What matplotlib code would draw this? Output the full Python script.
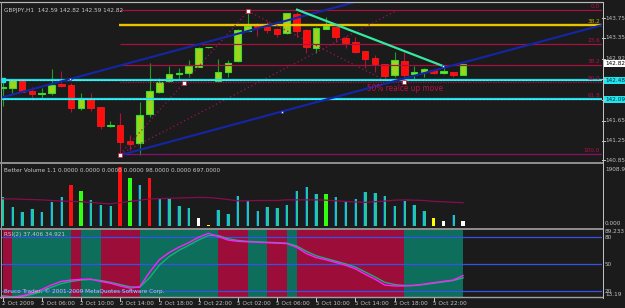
import matplotlib
matplotlib.use('Agg')
import matplotlib.pyplot as plt
from matplotlib import font_manager as fm
from matplotlib.lines import Line2D

W, H = 625, 308
BG = '#1b1b1b'
GRAY = '#c0c0c0'

entries = [(f.name, str(f.stretch)) for f in fm.fontManager.ttflist]
names = {e[0] for e in entries}
STRETCH = 'normal'
if 'Liberation Sans Narrow' in names:
    FONT, FS = 'Liberation Sans Narrow', 5.0
elif any(nm == 'DejaVu Sans' and 'condensed' in st for nm, st in entries):
    FONT, FS, STRETCH = 'DejaVu Sans', 4.6, 'condensed'
elif 'Liberation Sans' in names:
    FONT, FS = 'Liberation Sans', 4.6
else:
    FONT, FS = 'DejaVu Sans', 4.1
plt.rcParams['font.family'] = [FONT, 'DejaVu Sans']
plt.rcParams['font.stretch'] = STRETCH

# ---------------- data ----------------
title_text = "GBPJPY,H1  142.59 142.82 142.59 142.82"
time_ticks = [0, 4, 8, 12, 16, 20, 24, 28, 32, 36, 40, 44]
time_labels = ["2 Oct 2009", "2 Oct 06:00", "2 Oct 10:00", "2 Oct 14:00", "2 Oct 18:00",
               "2 Oct 22:00", "5 Oct 02:00", "5 Oct 06:00", "5 Oct 10:00", "5 Oct 14:00",
               "5 Oct 18:00", "5 Oct 22:00"]

opens = [142.32, 142.32, 142.50, 142.26, 142.20, 142.22, 142.40, 142.38, 141.91, 142.12,
         141.93, 141.55, 141.57, 141.24, 141.20, 141.79, 142.24, 142.46, 142.61, 142.63,
         142.75, 143.15, 142.46, 142.65, 142.87, 143.49, 143.63, 143.57, 143.53, 143.44,
         143.83, 143.51, 143.14, 143.53, 143.57, 143.34, 143.26, 143.08, 142.93, 142.81,
         142.59, 142.87, 142.61, 142.65, 142.69, 142.63, 142.65, 142.59]
highs = [142.48, 142.51, 142.51, 142.34, 142.32, 142.71, 142.67, 142.42, 142.22, 142.22,
         141.93, 141.65, 141.81, 141.36, 142.04, 142.83, 142.53, 142.77, 142.73, 142.89,
         143.16, 143.16, 142.91, 142.89, 143.53, 143.89, 143.65, 143.69, 143.55, 143.85,
         143.87, 143.53, 143.57, 143.77, 143.59, 143.38, 143.36, 143.08, 143.00, 142.81,
         143.06, 143.06, 142.77, 142.73, 142.69, 142.79, 142.65, 142.82]
lows = [141.95, 142.22, 142.24, 142.08, 142.12, 142.18, 142.34, 141.83, 141.87, 141.85,
        141.49, 141.53, 140.95, 141.06, 140.96, 141.73, 142.22, 142.44, 142.51, 142.55,
        142.75, 143.14, 142.46, 142.55, 142.85, 143.49, 143.38, 143.44, 143.36, 143.42,
        143.36, 143.04, 143.04, 143.53, 143.26, 143.14, 143.04, 142.73, 142.65, 142.48,
        142.55, 142.44, 142.51, 142.55, 142.61, 142.61, 142.55, 142.59]
closes = [142.34, 142.48, 142.24, 142.20, 142.22, 142.38, 142.37, 141.91, 142.12, 141.91,
          141.55, 141.57, 141.22, 141.18, 141.77, 142.26, 142.44, 142.61, 142.63, 142.77,
          143.14, 143.16, 142.65, 142.83, 143.51, 143.59, 143.57, 143.51, 143.42, 143.85,
          143.48, 143.16, 143.55, 143.59, 143.36, 143.24, 143.06, 142.91, 142.81, 142.57,
          142.89, 142.59, 142.65, 142.71, 142.63, 142.67, 142.59, 142.82]

price_ticks = [143.75, 143.35, 142.92, 142.50, 142.08, 141.65, 141.25, 140.85]
price_tick_labels = ["143.75", "143.35", "142.92", "142.50", "142.08", "141.65", "141.25", "140.85"]

fib_high = 143.91
fib_low = 140.97
fib_start = 12
fib_levels = [0.0, 23.6, 38.2, 50.0, 61.8, 100.0]
fib_labels = ["0.0", "23.6", "38.2", "50.0", "61.8", "100.0"]
yellow_level = 143.60
yellow_label = "38.2"
cyan_levels = [142.48, 142.09]
cyan_labels = ["142.48", "142.09"]
last_price = 142.82

channel_slope = 0.054
upper_anchor = (6.9, 142.505)
lower_anchor = (12.0, 140.95)
green_trend = [(30.05, 143.92), (44.95, 142.77)]
dotted_a = [(12.0, 140.97), (25.05, 143.89)]
dotted_b = [(12.0, 140.97), (40.1, 143.89)]
dotted_c = [(25.05, 143.89), (39.0, 142.48)]
red_markers = [(12.0, 140.95), (25.05, 143.89), (18.5, 142.42), (41.0, 142.44)]
blue_markers = [(6.9, 142.505), (28.5, 141.84), (44.95, 142.77)]
note_text = "50% realce up move"
note_pos = (37.2, 142.32)

volumes = [930, 633, 459, 557, 459, 777, 928, 1345, 1148, 853,
           679, 656, 1908.9, 1574, 1345, 1564, 875, 886, 666, 580,
           252, 30, 525, 394, 984, 798, 492, 612, 601, 678,
           1148, 1257, 1050, 1050, 941, 787, 875, 1105, 1082, 984,
           656, 820, 678, 492, 252, 175, 360, 150]
vol_class = "TTTTTTT" + "R" + "G" + "TTT" + "R" + "G" + "T" + "R" + "TTTT" + "W" + "Y" + \
            "TTTTTTTTTTT" + "G" + "TTTTTTTTTT" + "Y" + "W" + "T" + "W"
vol_ma = [886, 880, 870, 860, 850, 830, 810, 800, 790, 770,
          740, 722, 760, 800, 840, 880, 890, 900, 910, 920,
          930, 925, 900, 860, 820, 820, 830, 830, 830, 850,
          850, 850, 850, 840, 820, 800, 780, 770, 790, 810,
          840, 850, 840, 830, 800, 790, 770, 760]
vol_title = "Better Volume 1.1 0.0000 0.0000 0.0000 0.0000 98.0000 0.0000 697.0000"
vol_max_label = "1908.9"
vol_min_label = "0.000"

rsi_main = [14, 13.2, 15, 18, 22, 27, 31, 32.5, 33.3, 33.5,
            31, 29, 26, 23.5, 25, 41, 55, 63, 69, 74,
            80, 84.4, 81, 77, 75.5, 75, 74.5, 74, 73.5, 73,
            69, 62, 57.5, 55, 52, 49, 45, 39, 33.5, 27,
            25.9, 25.9, 26.5, 28, 29.6, 31, 32.5, 37.406]
rsi_signal = [15, 14, 14.5, 16.5, 20, 24.5, 28.5, 31, 32.5, 33.2,
              32, 30, 27.5, 25, 24.5, 35, 49, 58.5, 65.5, 71,
              77, 82, 82, 78.5, 76.5, 75.5, 75, 74.5, 74, 73.5,
              70.5, 64.5, 59.5, 56.5, 53.5, 50.5, 47, 41.5, 36, 30,
              27.5, 26.5, 26.5, 27.5, 29, 30.5, 32, 34.921]
rsi_zone = "R" + "TTTTTT" + "R" + "TT" + "RRRR" + "TTTTTTTT" + "RRR" + "TT" + "RR" + "T" + \
           "RRRRRRRRRRR" + "TTTTTT"
rsi_levels = [80, 50, 20]
rsi_title = "RSI(2) 37.406 34.921"
rsi_max_label = "89.233"
rsi_min_label = "13.19"
copyright_text = "Bruco Trader, \u00a9 2001-2009 MetaQuotes Software Corp."

# ---------------- layout helpers ----------------
X0_PX, DX_PX = 2.5, 9.8
AX_L, AX_R = 2.0, 602.0


def rect(y0, y1):
    return [AX_L / W, 1 - y1 / H, (AX_R - AX_L) / W, (y1 - y0) / H]


def fline(x0, y0, x1, y1, color, lw_px=1.0, **kw):
    fig.add_artist(Line2D([x0 / W, x1 / W], [1 - y0 / H, 1 - y1 / H],
                          color=color, lw=lw_px * 0.72, **kw))


xlim = ((AX_L - X0_PX) / DX_PX, (AX_R - X0_PX) / DX_PX)
LABX = (605 - AX_L) / (AX_R - AX_L)

fig = plt.figure(figsize=(W / 100, H / 100), dpi=100, facecolor=BG)

ax = fig.add_axes(rect(2.5, 161.8))
axv = fig.add_axes(rect(163.6, 227.7))
axr = fig.add_axes(rect(229.4, 296.8))
for a in (ax, axv, axr):
    a.set_facecolor(BG)
    a.set_xlim(*xlim)
    a.set_xticks([])
    a.set_yticks([])
    for s in a.spines.values():
        s.set_visible(False)

# price axis: y = 18 + (143.75 - p) * 49
ax.set_ylim(143.75 - (161.8 - 18) / 49, 143.75 + (18 - 2.5) / 49)
# volume axis: 0 at y=226, 1908.9 at y=167.3
kv = (226 - 167.3) / 1908.9
axv.set_ylim(-(227.7 - 226) / kv, 1908.9 + (167.3 - 163.6) / kv)
# rsi axis: 80 at 237.3, 0.9 px per unit
axr.set_ylim(80 - (296.8 - 237.3) / 0.9, 80 + (237.3 - 229.4) / 0.9)

# ---------------- candles ----------------
n = len(opens)
for i in range(n):
    o, h, l, c = opens[i], highs[i], lows[i], closes[i]
    bull = c >= o
    wick_col = '#1fa01f' if bull else '#b0103c'
    ax.vlines(i, l, h, color=wick_col, lw=0.8, zorder=2)
    body = max(abs(c - o), 0.012)
    if bull:
        ax.bar(i, body, bottom=min(o, c), width=0.66, color='#a0d41c',
               edgecolor='#2fe02f', lw=0.8, zorder=3)
    else:
        ax.bar(i, body, bottom=min(o, c), width=0.66, color='#ff0d0d',
               edgecolor='#ff2020', lw=0.5, zorder=3)

# fib lines
rng = fib_high - fib_low
for lev, lab in zip(fib_levels, fib_labels):
    p = fib_high - rng * lev / 100.0
    col = '#86106a' if lev == 100.0 else '#a8103e'
    ls = (0, (1, 1)) if lev == 50.0 else '-'
    ax.hlines(p, fib_start, xlim[1], color=col, lw=0.9, linestyles=ls, zorder=4)
    ax.text(0.9965, p + 0.025, lab, transform=ax.get_yaxis_transform(),
            ha='right', va='bottom', fontsize=FS, color='#b0104a', zorder=6)
ax.hlines(yellow_level, fib_start - 0.1, xlim[1], color='#e8c400', lw=1.7, zorder=4)
ax.text(0.9965, yellow_level + 0.03, yellow_label, transform=ax.get_yaxis_transform(),
        ha='right', va='bottom', fontsize=FS, color='#c8a400', zorder=6)

# cyan support lines
for p in cyan_levels:
    ax.axhline(p, color='#19dfe8', lw=1.6, zorder=5)
    ax.axhline(p, color='#9ff8ff', lw=0.5, linestyle=(0, (1, 1)), zorder=5)
ax.plot([0.05], [cyan_levels[0]], marker='s', ms=3.5, color='#19e8f0', zorder=6, clip_on=False)

# channel lines
xs_u = [xlim[0], 40]
ax.plot(xs_u, [upper_anchor[1] + channel_slope * (x - upper_anchor[0]) for x in xs_u],
        color='#1426a8', lw=1.5, zorder=5)
xs_l = [lower_anchor[0], xlim[1]]
ax.plot(xs_l, [lower_anchor[1] + channel_slope * (x - lower_anchor[0]) for x in xs_l],
        color='#1426a8', lw=1.5, zorder=5)
# green trend line
ax.plot([p[0] for p in green_trend], [p[1] for p in green_trend], color='#33eaa0', lw=1.6, zorder=5)
# dotted fib trend lines
for seg in (dotted_a, dotted_b, dotted_c):
    ax.plot([p[0] for p in seg], [p[1] for p in seg], color='#a0105a', lw=0.9,
            linestyle=(0, (1, 2.2)), zorder=4)
for (bx, by) in red_markers:
    ax.plot([bx], [by], marker='s', ms=2.2, mfc='white', mec='#d01030', mew=0.5, zorder=7)
for (bx, by) in blue_markers:
    ax.plot([bx], [by], marker='s', ms=2.0, mfc='white', mec='#2030c0', mew=0.5, zorder=7)

ax.text(note_pos[0], note_pos[1], note_text, fontsize=FS * 1.3, color='#b81048',
        ha='left', va='center', zorder=6)
ax.text(0.004, 0.965, title_text, transform=ax.transAxes, fontsize=FS,
        color='#c8c8c8', ha='left', va='top', zorder=8)

# price axis labels
for p, lab in zip(price_ticks, price_tick_labels):
    ax.text(LABX, p, lab, transform=ax.get_yaxis_transform(), fontsize=FS, color=GRAY,
            ha='left', va='center', clip_on=False)
    y = 18 + (143.75 - p) * 49
    fline(602, y, 604.5, y, GRAY)
box_kw = dict(boxstyle='square,pad=0.18', ec='none')
ax.text(LABX, last_price, f"{last_price:.2f}", transform=ax.get_yaxis_transform(),
        fontsize=FS, color='black', ha='left', va='center', clip_on=False, zorder=9,
        bbox=dict(fc='white', **box_kw))
for p, lab in zip(cyan_levels, cyan_labels):
    ax.text(LABX, p, lab, transform=ax.get_yaxis_transform(), fontsize=FS, color='#003040',
            ha='left', va='center', clip_on=False, zorder=9, bbox=dict(fc='#22e6ee', **box_kw))

# ---------------- volume ----------------
vcols = {'T': '#1fc8a6', 'R': '#ff1010', 'G': '#30ff10', 'W': '#ffffff', 'Y': '#ffff00'}
for i, (v, k) in enumerate(zip(volumes, vol_class)):
    if k == 'T':
        axv.bar(i, v, width=0.36, color='#1a3aa0', zorder=2)
        axv.bar(i + 0.05, v, width=0.26, color=vcols[k], zorder=3)
    else:
        axv.bar(i, v, width=0.36, color=vcols[k], zorder=3)
axv.plot(range(n), vol_ma, color='#8a0a50', lw=0.9, zorder=4)
axv.text(0.004, 0.93, vol_title, transform=axv.transAxes, fontsize=FS, color='#c8c8c8',
         ha='left', va='top')
axv.text(LABX, 1908.9, vol_max_label, transform=axv.get_yaxis_transform(), fontsize=FS,
         color=GRAY, ha='left', va='top', clip_on=False)
axv.text(LABX, 0, vol_min_label, transform=axv.get_yaxis_transform(), fontsize=FS,
         color=GRAY, ha='left', va='bottom', clip_on=False)

# ---------------- RSI ----------------
ylo, yhi = axr.get_ylim()
zcols = {'R': '#9c0d3a', 'T': '#0d6e5c'}
for i, z in enumerate(rsi_zone):
    axr.bar(i, yhi - ylo, bottom=ylo, width=1.0, align='edge', color=zcols[z], lw=0, zorder=1)
for lev in rsi_levels:
    axr.axhline(lev, color='#3454e8', lw=0.9, zorder=2)
    axr.text(LABX, lev, str(lev), transform=axr.get_yaxis_transform(), fontsize=FS,
             color=GRAY, ha='left', va='center', clip_on=False)
axr.plot(range(n), rsi_signal, color='#18b07c', lw=1.0, zorder=3)
axr.plot(range(n), rsi_main, color='#ff20ff', lw=1.0, zorder=4)
axr.text(0.004, 0.96, rsi_title, transform=axr.transAxes, fontsize=FS, color='#c8c8c8',
         ha='left', va='top', zorder=6)
axr.text(0.004, 0.035, copyright_text, transform=axr.transAxes, fontsize=FS, color='#c8c8c8',
         ha='left', va='bottom', zorder=6)
axr.text(LABX, yhi, rsi_max_label, transform=axr.get_yaxis_transform(), fontsize=FS,
         color=GRAY, ha='left', va='top', clip_on=False)
axr.text(LABX, ylo, rsi_min_label, transform=axr.get_yaxis_transform(), fontsize=FS,
         color=GRAY, ha='left', va='bottom', clip_on=False)

# ---------------- frame ----------------
fline(0, 1.5, 602, 1.5, '#b8b8b8', 1.2)
fline(1.2, 1.5, 1.2, 297.5, '#a0a0a0', 1.0)
fline(602.5, 1.5, 602.5, 297.5, '#c0c0c0', 1.0)
fline(0, 162.7, 602, 162.7, '#8c8c8c', 2.0)
fline(0, 228.5, 602, 228.5, '#8c8c8c', 2.0)
fline(0, 297.4, 602, 297.4, '#a0a0a0', 1.4)

for t, lab in zip(time_ticks, time_labels):
    xp = X0_PX + DX_PX * t
    fline(xp, 297.5, xp, 300.5, GRAY)
    fig.text((xp - 0.5) / W, 1 - 303.5 / H, lab, fontsize=FS, color=GRAY, ha='left', va='center')

fig.savefig('out.png', dpi=100, facecolor=BG)
